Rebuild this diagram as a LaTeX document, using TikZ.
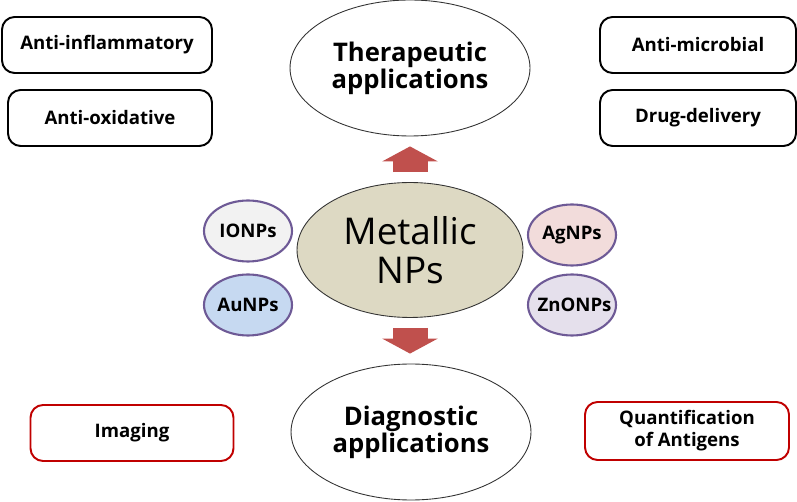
\documentclass[tikz,border=0pt]{standalone}
\usepackage{fontspec}
\setmainfont{Open Sans}
\usetikzlibrary{shapes.geometric,arrows.meta}
\definecolor{metaltan}{HTML}{DDD9C3}
\definecolor{npgray}{HTML}{F2F2F2}
\definecolor{npblue}{HTML}{C6D9F1}
\definecolor{nppink}{HTML}{F2DCDB}
\definecolor{nplilac}{HTML}{E5E0EC}
\definecolor{nprim}{HTML}{6E5A96}
\definecolor{diagred}{HTML}{C00000}
\definecolor{arrowred}{HTML}{C0504D}
\begin{document}
\begin{tikzpicture}[x=0.02cm, y=-0.02cm,
    usebox/.style={draw, rounded corners=0.25cm, line width=1.1pt, minimum height=1.12cm,
        align=center, font=\bfseries\fontsize{10.6}{12.5}\selectfont},
    appellipse/.style={ellipse, draw=black!80, line width=0.5pt, inner sep=0pt,
        minimum width=4.8cm, minimum height=2.72cm, align=center,
        font=\bfseries\fontsize{14.6}{15.5}\selectfont},
    npcircle/.style={ellipse, draw=nprim, line width=1.2pt, inner sep=0pt,
        minimum width=1.76cm, minimum height=1.22cm, font=\bfseries\fontsize{10.6}{12}\selectfont},
    bigarrow/.style={arrowred, line width=0.7cm,
        -{Triangle[width=1.1cm, length=0.3cm]}}]
    \useasboundingbox (0, 0) rectangle (797, 502);
    % centre
    \node [ellipse, draw=black!80, fill=metaltan, line width=0.5pt, inner sep=0pt,
        minimum width=4.52cm, minimum height=2.7cm, align=center,
        font=\fontsize{21}{22}\selectfont] (metal) at (410, 250) {Metallic\\NPs};
    \node [npcircle, fill=npgray] (ionp) at (248, 231) {IONPs};
    \node [npcircle, fill=npblue] (aunp) at (248, 305) {AuNPs};
    \node [npcircle, fill=nppink] (agnp) at (572, 235) {AgNPs};
    \node [npcircle, fill=nplilac] (znonp) at (572, 305) {\makebox[0pt]{\hspace{0.1cm}ZnONPs}};
    % applications
    \node [appellipse] (ther) at (410, 68) {Therapeutic\\applications};
    \node [appellipse] (diag) at (411, 432) {Diagnostic\\applications};
    \draw [bigarrow] ([yshift=0.2cm]metal.north) -- ([yshift=-0.2cm]ther.south);
    \draw [bigarrow] ([yshift=-0.2cm]metal.south) -- ([yshift=0.2cm]metal.south |- diag.north);
    % therapeutic uses
    \node [usebox, minimum width=4.2cm] (antiinf) at (107, 45) {Anti-inflammatory};
    \node [usebox, minimum width=4.08cm] (antiox) at (110, 118) {Anti-oxidative};
    \node [usebox, minimum width=3.92cm] (antimic) at (698, 45) {Anti-microbial};
    \node [usebox, minimum width=3.92cm] (drug) at (698, 118) {Drug-delivery};
    % diagnostic uses
    \node [usebox, draw=diagred, minimum width=4.06cm] (imag) at (132, 433) {Imaging};
    \node [usebox, draw=diagred, minimum width=4.08cm, minimum height=1.16cm]
        (quant) at (687, 431) {Quantification\\of Antigens};
\end{tikzpicture}
\end{document}
